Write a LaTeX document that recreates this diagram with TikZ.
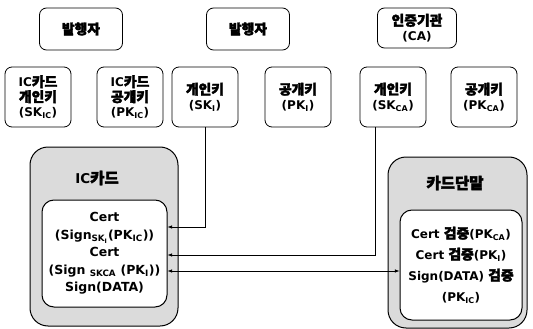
\documentclass[tikz,border=0pt]{standalone}
\usepackage{fontspec}
\setmainfont{DejaVu Sans}
\newfontfamily\krfont{Noto Sans CJK KR}[FakeBold=2.5,Scale=1.15]
\newcommand\kr[1]{{\krfont #1}}
\usetikzlibrary{arrows,calc,positioning}

\tikzset{
  keybox/.style={draw, rounded corners=7pt, line width=0.8pt, align=center,
    minimum width=66pt, minimum height=60pt, inner sep=1pt,
    font=\fontsize{12}{15}\selectfont\bfseries},
  topbox/.style={keybox, minimum width=83pt, minimum height=42pt},
  devbox/.style={draw, rounded corners=18pt, line width=1pt, fill=gray!28},
  devlbl/.style={font=\fontsize{13.5}{15}\selectfont\bfseries},
  membox/.style={draw, fill=white, rounded corners=12pt, line width=1pt, align=center,
    inner sep=0pt, font=\fontsize{12.5}{17.5}\selectfont\bfseries},
  arr/.style={-latex, line width=0.6pt},
  arrb/.style={latex-latex, line width=0.6pt}
}

\begin{document}
\begin{tikzpicture}[x=1pt,y=-1pt]
  \useasboundingbox (0,0) rectangle (533,329);

  % issuers and the CA
  \node[topbox] (issuerA) at (81,29) {\kr{발행자}};
  \node[topbox] (issuerB) at (248,29) {\kr{발행자}};
  \node[topbox, minimum width=79pt, minimum height=40pt] (ca) at (417,28) {\kr{인증기관}\\(CA)};

  % key pairs
  \node[keybox] (skic) at (38,97) {IC\kr{카드}\\\kr{개인키}\\(SK\textsubscript{IC})};
  \node[keybox] (pkic) at (130,97) {IC\kr{카드}\\\kr{공개키}\\(PK\textsubscript{IC})};
  \node[keybox] (ski)  at (205,97) {\kr{개인키}\\(SK\textsubscript{I})};
  \node[keybox] (pki)  at (298,97) {\kr{공개키}\\(PK\textsubscript{I})};
  \node[keybox] (skca) at (393,97) {\kr{개인키}\\(SK\textsubscript{CA})};
  \node[keybox] (pkca) at (484,97) {\kr{공개키}\\(PK\textsubscript{CA})};

  % the card
  \node[devbox, minimum width=148pt, minimum height=179pt] (card) at (104,236.5) {};
  \node[devlbl] (cardlbl) at (97,178) {IC\kr{카드}};
  \node[membox, minimum width=125pt, minimum height=107pt] (cardin) at (104.5,253.5)
    {Cert\\(Sign\textsubscript{SK\textsubscript{I}}(PK\textsubscript{IC}))\\Cert\\(Sign \textsubscript{SKCA} (PK\textsubscript{I}))\\Sign(DATA)};

  % the terminal
  \node[devbox, minimum width=139pt, minimum height=171pt] (term) at (457.5,242.5) {};
  \node[devlbl] (termlbl) at (455,183) {\kr{카드단말}};
  \node[membox, minimum width=122pt, minimum height=110pt, font=\fontsize{12}{21}\selectfont\bfseries] (termin) at (461,265)
    {Cert \kr{검증}(PK\textsubscript{CA})\\Cert \kr{검증}(PK\textsubscript{I})\\Sign(DATA) \kr{검증}\\(PK\textsubscript{IC})};

  % links
  \draw[arr] (ski.south) |- ([yshift=26.5pt]cardin.east);
  \draw[arr] ([xshift=-18pt]skca.south) |- ([yshift=-1.5pt]cardin.east);
  \coordinate (link) at ([yshift=-17.5pt]cardin.east);
  \draw[arrb] (link) -- (link -| termin.west);
\end{tikzpicture}
\end{document}
